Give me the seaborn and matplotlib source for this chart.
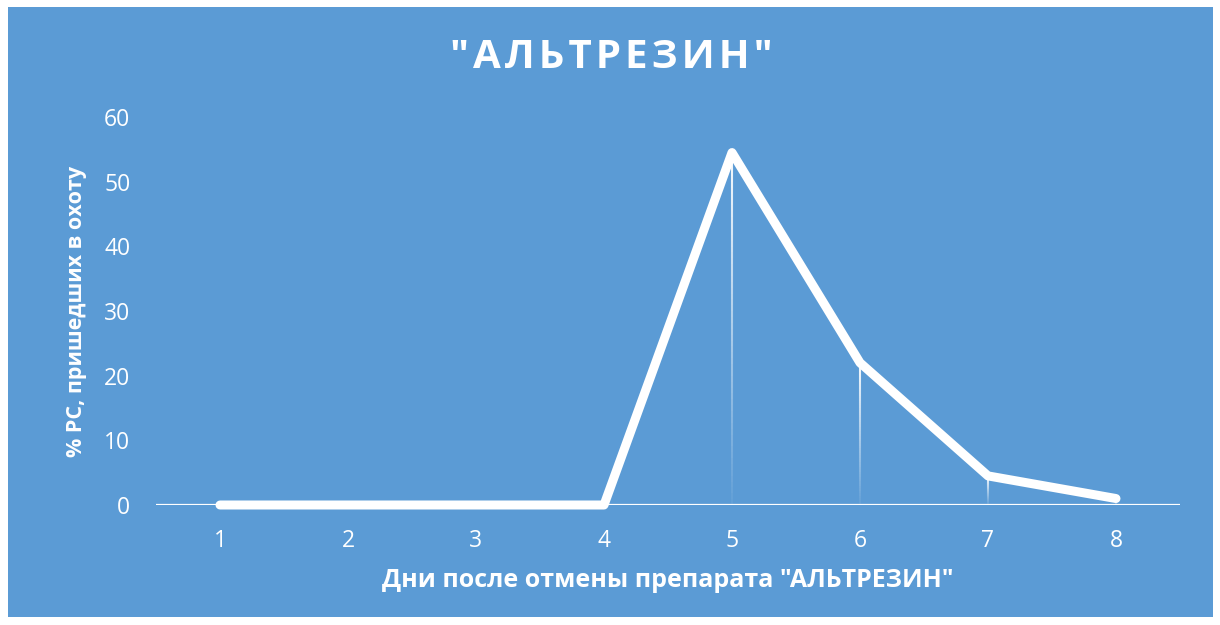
import numpy as np
import pandas as pd
import matplotlib
matplotlib.use("Agg")
import matplotlib.pyplot as plt
import seaborn as sns
from matplotlib.patches import Rectangle
from matplotlib.collections import LineCollection

days = [1, 2, 3, 4, 5, 6, 7, 8]
percent = [0, 0, 0, 0, 54.5, 22, 4.5, 1]
y_ticks = [0, 10, 20, 30, 40, 50, 60]
title = '"АЛЬТРЕЗИН"'
x_label = 'Дни после отмены препарата "АЛЬТРЕЗИН"'
y_label = '% РС, пришедших в охоту'

BLUE = "#5B9BD5"
sns.set_style("white")
plt.rcParams['font.family'] = ['Open Sans', 'DejaVu Sans']

fig = plt.figure(figsize=(12.2, 6.25), dpi=100, facecolor="white")
bg = Rectangle((8/1220, 1-617/625), (1213-8)/1220, (617-7)/625,
               transform=fig.transFigure, facecolor=BLUE,
               edgecolor="none", zorder=-10)
fig.patches.append(bg)
ax = fig.add_axes([156/1220, 1-505/625, (1180-156)/1220, (505-117)/625])
ax.set_zorder(5)
ax.set_facecolor("none")
ax.patch.set_alpha(0)

df = pd.DataFrame({"day": days, "pct": percent})

# gradient drop lines
for xd, yd in zip(days, percent):
    if yd <= 0:
        continue
    n = 60
    ys = np.linspace(0, yd, n + 1)
    segs = [[(xd, ys[i]), (xd, ys[i + 1])] for i in range(n)]
    alphas = np.linspace(0.05, 0.95, n)
    cols = [(1, 1, 1, a) for a in alphas]
    ax.add_collection(LineCollection(segs, colors=cols, linewidths=1.5, zorder=2))

ax.axhline(0, color="white", lw=1.6, zorder=1)
sns.lineplot(data=df, x="day", y="pct", ax=ax, color="white", lw=6.5,
             solid_capstyle="round", solid_joinstyle="round", zorder=3,
             clip_on=False)

ax.set_xlim(0.5, 8.5)
ax.set_ylim(0, 60)
ax.set_xticks(days)
ax.set_yticks(y_ticks)
ax.tick_params(axis="both", colors="white", labelsize=16.5, length=0)
ax.tick_params(axis="x", pad=17)
ax.tick_params(axis="y", pad=18.5)
for s in ax.spines.values():
    s.set_visible(False)
ax.set_xlabel(x_label, color="white", fontsize=18, fontweight="bold", labelpad=11)
ax.set_ylabel(y_label, color="white", fontsize=15.5, fontweight="bold", labelpad=12)
ax.grid(False)

fig.text(611/1220, 1-57/625, "\u200a".join(title), color="white", fontsize=29,
         fontweight="bold", ha="center", va="center")

fig.savefig("out.png", dpi=100, facecolor="white")
